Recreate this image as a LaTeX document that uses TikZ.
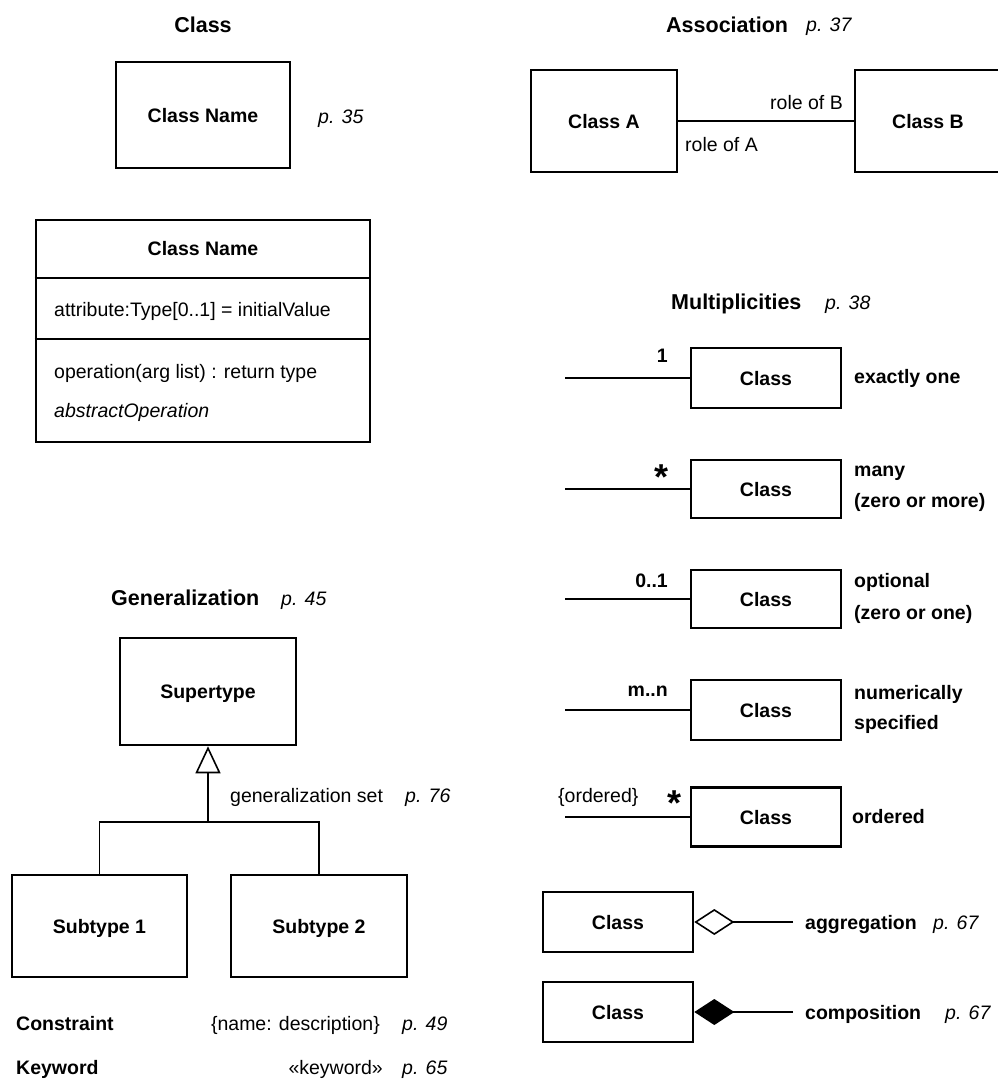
\documentclass[tikz,border=0pt]{standalone}
\usepackage{fontspec}
\setmainfont{Liberation Sans}
\usetikzlibrary{arrows.meta}

\begin{document}
\begin{tikzpicture}[x=1pt, y=-1pt,
  txt/.style={inner sep=0pt, text height=14pt, text depth=0pt,
              font=\fontsize{19.5}{23}\selectfont},
  btxt/.style={txt, font=\fontsize{19.5}{23}\selectfont\bfseries},
  itxt/.style={txt, font=\fontsize{19.5}{23}\selectfont\itshape},
  startxt/.style={inner sep=0pt, font=\fontsize{36}{40}\selectfont\bfseries},
  ttl/.style={inner sep=0pt, text height=15.4pt, text depth=0pt,
              font=\fontsize{21.5}{25}\selectfont\bfseries},
  umlbox/.style={draw, line width=2.6pt, inner sep=0pt, text height=14pt,
                 text depth=0pt, font=\fontsize{19.5}{23}\selectfont\bfseries},
  boxline/.style={line width=2.6pt},
  conn/.style={line width=1.9pt}]

\useasboundingbox (0,0) rectangle (998,1081);

% ---------- Class ----------
\node[ttl] (tclass) at (203,25) {Class};
\node[umlbox, minimum width=174pt, minimum height=106pt] (cn) at (203,115) {Class Name};
\node[itxt, anchor=west] (pcn) at (318,116) {p. 35};

\node[umlbox, minimum width=334pt, minimum height=222pt] (cd) at (203,331) {};
\draw[boxline] (cd.west |- 0,278) -- (cd.east |- 0,278);
\draw[boxline] (cd.west |- 0,339) -- (cd.east |- 0,339);
\node[btxt] (cdn) at (203,248) {Class Name};
\node[txt, anchor=west] (cda) at (54,309) {attribute:Type[0..1] = initialValue};
\node[txt, anchor=west] (cdo) at (54,371) {operation(arg list) : return type};
\node[itxt, anchor=west] (cdb) at (54,410) {abstractOperation};

% ---------- Association ----------
\node[ttl, anchor=west] (tassoc) at (666,25) {Association};
\node[itxt, anchor=west] (passoc) at (806,25) {p. 37};
\node[umlbox, minimum width=146pt, minimum height=102pt] (ca) at (604,121) {Class A};
\node[umlbox, minimum width=146pt, minimum height=102pt] (cb) at (928,121) {Class B};
\draw[conn] (ca) -- (cb);
\node[txt, anchor=east] (rb) at (843,102) {role of B};
\node[txt, anchor=west] (ra) at (685,144) {role of A};

% ---------- Multiplicities ----------
\node[ttl, anchor=west] (tmult) at (671,302) {Multiplicities};
\node[itxt, anchor=west] (pmult) at (825,302) {p. 38};

\node[umlbox, minimum width=150pt, minimum height=60pt] (m1) at (766,378) {Class};
\coordinate (m1e) at (565,378);
\draw[conn] (m1e) -- (m1);
\node[btxt, anchor=east] (m1n) at (668,355) {1};
\node[btxt, anchor=west] (m1t) at (854,376) {exactly one};

\node[umlbox, minimum width=150pt, minimum height=58pt] (m2) at (766,489) {Class};
\coordinate (m2e) at (565,489);
\draw[conn] (m2e) -- (m2);
\node[startxt] (m2n) at (661,477) {*};
\node[btxt, anchor=west] (m2t) at (854,469) {many};
\node[btxt, anchor=west] (m2u) at (854,500) {(zero or more)};

\node[umlbox, minimum width=150pt, minimum height=58pt] (m3) at (766,599) {Class};
\coordinate (m3e) at (565,599);
\draw[conn] (m3e) -- (m3);
\node[btxt, anchor=east] (m3n) at (668,580) {0..1};
\node[btxt, anchor=west] (m3t) at (854,580) {optional};
\node[btxt, anchor=west] (m3u) at (854,612) {(zero or one)};

\node[umlbox, minimum width=150pt, minimum height=60pt] (m4) at (766,710) {Class};
\coordinate (m4e) at (565,710);
\draw[conn] (m4e) -- (m4);
\node[btxt, anchor=east] (m4n) at (668,689) {m..n};
\node[btxt, anchor=west] (m4t) at (854,692) {numerically};
\node[btxt, anchor=west] (m4u) at (854,722) {specified};

\node[umlbox, minimum width=150pt, minimum height=59pt] (m5) at (766,817) {Class};
\coordinate (m5e) at (565,817);
\draw[conn] (m5e) -- (m5);
\node[txt, anchor=west] (m5o) at (558,795) {\{ordered\}};
\node[startxt] (m5n) at (674,803) {*};
\node[btxt, anchor=west] (m5t) at (852,816) {ordered};

% ---------- Aggregation / composition ----------
\node[umlbox, minimum width=150pt, minimum height=60pt] (ag) at (618,922) {Class};
\coordinate (age) at (793,922);
\draw[conn, -{Diamond[open, length=40pt, width=26pt, line width=1.6pt]}] (age) -- (ag);
\node[btxt, anchor=west] (agt) at (805,922) {aggregation};
\node[itxt, anchor=west] (agp) at (933,922) {p. 67};

\node[umlbox, minimum width=150pt, minimum height=60pt] (cp) at (618,1012) {Class};
\coordinate (cpe) at (793,1012);
\draw[conn, -{Diamond[length=40pt, width=26pt]}] (cpe) -- (cp);
\node[btxt, anchor=west] (cpt) at (805,1012) {composition};
\node[itxt, anchor=west] (cpp) at (945,1012) {p. 67};

% ---------- Generalization ----------
\node[ttl, anchor=west] (tgen) at (111,598) {Generalization};
\node[itxt, anchor=west] (pgen) at (281,598) {p. 45};
\node[umlbox, minimum width=176pt, minimum height=107pt] (sup) at (208,691.5) {Supertype};
\node[umlbox, minimum width=175pt, minimum height=102pt] (sub1) at (99.5,926) {Subtype 1};
\node[umlbox, minimum width=176pt, minimum height=102pt] (sub2) at (319,926) {Subtype 2};
\coordinate (gj) at (208,822);
\draw[conn] (sub1.north) |- (gj) -| (sub2.north);
\draw[conn, -{Triangle[open, length=27pt, width=25pt, line width=1.6pt]}] (gj) -- (sup);
\node[txt, anchor=west] (gs) at (230,795) {generalization set};
\node[itxt, anchor=west] (gsp) at (405,795) {p. 76};

\node[btxt, anchor=west] (ctr) at (16,1023) {Constraint};
\node[txt, anchor=east] (ctrv) at (380,1023) {\{name: description\}};
\node[itxt, anchor=west] (ctrp) at (402,1023) {p. 49};
\node[btxt, anchor=west] (kw) at (16,1067) {Keyword};
\node[txt, anchor=east] (kwv) at (383,1067) {«keyword»};
\node[itxt, anchor=west] (kwp) at (402,1067) {p. 65};
\end{tikzpicture}
\end{document}
